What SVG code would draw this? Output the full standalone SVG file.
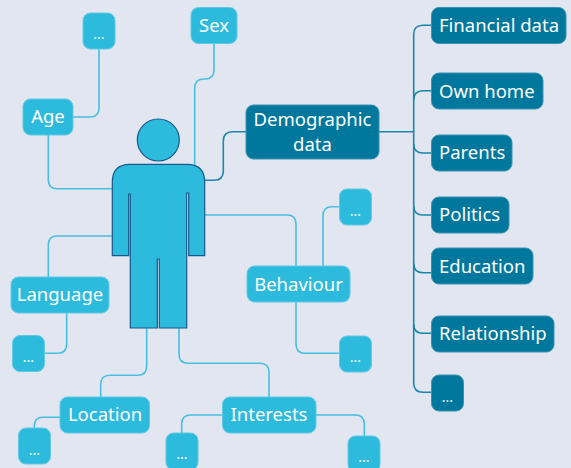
<svg xmlns="http://www.w3.org/2000/svg" width="571" height="468" viewBox="0 0 571 468">
<style>
text{font-family:"Noto Sans","Open Sans","Liberation Sans",sans-serif;font-size:18.5px;fill:#fff;text-anchor:middle}
text.s{text-anchor:start}
text.e{font-size:14px}
.l{fill:#2cbadd;stroke:#62c8e4;stroke-width:1}
.d{fill:#00789e;stroke:#3a93b4;stroke-width:1}
.c1,.c2{fill:none;stroke-width:1.6}
.c1{stroke:#48bfdf}
.c2{stroke:#1a86a9}
.p{fill:#2cbadd;stroke:#17598c;stroke-width:1.2}
</style>
<rect width="571" height="468" fill="#e2e6f1"/>
<g id="connectors">
<path class="c1" d="M99 48V108Q99 117 90 117H73"/>
<path class="c1" d="M48.300 134V180Q48.300 188.700 57 188.700H113"/>
<path class="c1" d="M214 43V70Q214 79 205 79H204Q194.700 79 194.700 88V165"/>
<path class="c1" d="M113 236H57Q48.300 236 48.300 245V277"/>
<path class="c1" d="M66.700 312V344Q66.700 353.300 57.500 353.300H44"/>
<path class="c1" d="M146.700 328V366Q146.700 375.300 137.500 375.300H110Q100.700 375.300 100.700 384.500V397"/>
<path class="c1" d="M60 417.300H43Q34.300 417.300 34.300 426V429"/>
<path class="c1" d="M179 328V354Q179 363.300 188 363.300H260Q269 363.300 269 372.500V397"/>
<path class="c1" d="M223 415H191Q181.700 415 181.700 424V434"/>
<path class="c1" d="M316 415H355Q364.300 415 364.300 424V436"/>
<path class="c1" d="M205 215H287Q296 215 296 224V267"/>
<path class="c1" d="M340 206.700H332Q323 206.700 323 215.700V267"/>
<path class="c1" d="M296 302V344Q296 353.300 305 353.300H340"/>
<path class="c2" d="M205 180.300H214Q223.300 180.300 223.300 171V141Q223.300 131.700 232.500 131.700H247"/>
<path class="c2" d="M379 131.700H413.700"/>
<path class="c2" d="M432 25.300H423Q413.700 25.300 413.700 34.500V383Q413.700 392.300 423 392.300H432"/>
<path class="c2" d="M432 90.700H423Q413.700 90.700 413.700 100"/>
<path class="c2" d="M413.700 144Q413.700 153 423 153H432"/>
<path class="c2" d="M413.700 206Q413.700 215 423 215H432"/>
<path class="c2" d="M413.700 263.500Q413.700 272.700 423 272.700H432"/>
<path class="c2" d="M413.700 324Q413.700 333.300 423 333.300H432"/>
</g>
<g id="person">
<circle class="p" cx="158.300" cy="140" r="21"/>
<path class="p" d="M130 164.300H187Q204.700 164.300 204.700 182V255.700H188.700V193H186.700V328H159.300V259H157.300V328H130.300V194H128.700V255.700H112.300V182Q112.300 164.300 130 164.300Z"/>
</g>
<g id="n1"><rect class="l" x="83" y="13" width="32" height="36" rx="7.500"/><text x="99" y="39" class="e">...</text></g>
<g id="sex"><rect class="l" x="191" y="7.500" width="46" height="36" rx="7.500"/><text x="214" y="32">Sex</text></g>
<g id="age"><rect class="l" x="23" y="99" width="50" height="36" rx="7.500"/><text x="48" y="123">Age</text></g>
<g id="language"><rect class="l" x="11" y="277" width="98" height="36" rx="7.500"/><text x="60" y="301">Language</text></g>
<g id="n2"><rect class="l" x="12.500" y="335.500" width="32" height="36" rx="7.500"/><text x="28.500" y="362" class="e">...</text></g>
<g id="location"><rect class="l" x="60" y="397" width="89.500" height="36" rx="7.500"/><text x="105" y="421">Location</text></g>
<g id="n3"><rect class="l" x="18.500" y="428" width="32" height="36" rx="7.500"/><text x="34.500" y="454.500" class="e">...</text></g>
<g id="interests"><rect class="l" x="222.500" y="397" width="93.500" height="36" rx="7.500"/><text x="269" y="421">Interests</text></g>
<g id="n4"><rect class="l" x="166" y="433" width="32" height="37" rx="7.500"/><text x="182" y="459" class="e">...</text></g>
<g id="n5"><rect class="l" x="348" y="436" width="32" height="36" rx="7.500"/><text x="364" y="462" class="e">...</text></g>
<g id="behaviour"><rect class="l" x="247" y="266" width="103" height="36" rx="7.500"/><text x="298.500" y="290.500">Behaviour</text></g>
<g id="n6"><rect class="l" x="339.500" y="189" width="32" height="36" rx="7.500"/><text x="355.500" y="215.500" class="e">...</text></g>
<g id="n7"><rect class="l" x="339.500" y="336" width="32" height="36" rx="7.500"/><text x="355.500" y="362" class="e">...</text></g>
<g id="demographic"><rect class="d" x="246" y="105" width="133" height="54" rx="7.500"/><text x="312.500" y="126">Demographic</text><text x="312.500" y="151">data</text></g>
<g id="financial"><rect class="d" x="431.500" y="7.500" width="134.500" height="36" rx="7.500"/><text class="s" x="439" y="32">Financial data</text></g>
<g id="home"><rect class="d" x="431.500" y="73" width="111.500" height="36" rx="7.500"/><text class="s" x="439" y="97.500">Own home</text></g>
<g id="parents"><rect class="d" x="431.500" y="135" width="80.500" height="36" rx="7.500"/><text class="s" x="439" y="159">Parents</text></g>
<g id="politics"><rect class="d" x="431.500" y="197" width="77.500" height="36" rx="7.500"/><text class="s" x="439" y="221">Politics</text></g>
<g id="education"><rect class="d" x="431.500" y="248" width="101.500" height="36" rx="7.500"/><text class="s" x="439" y="272.500">Education</text></g>
<g id="relationship"><rect class="d" x="431.500" y="316" width="122.500" height="36" rx="7.500"/><text class="s" x="439" y="339.500">Relationship</text></g>
<g id="n8"><rect class="d" x="431.500" y="375" width="32" height="36" rx="7.500"/><text x="447.500" y="401.500" class="e">...</text></g>
</svg>
